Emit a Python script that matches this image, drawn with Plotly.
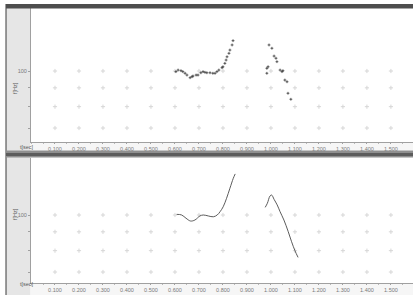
import plotly.graph_objects as go

# ---------------- data ----------------
x_ticks = [0.1, 0.2, 0.3, 0.4, 0.5, 0.6, 0.7, 0.8, 0.9, 1.0, 1.1, 1.2, 1.3, 1.4, 1.5]
y_grid = [70, 80, 90, 100]
y_labels = ["", "", "", "100"]

# top panel: raw pitch points
top_t1 = [0.604, 0.613, 0.625, 0.633, 0.642, 0.650, 0.663, 0.671, 0.675, 0.688, 0.696,
          0.708, 0.717, 0.725, 0.733, 0.746, 0.758, 0.767, 0.775, 0.783, 0.796, 0.800,
          0.808, 0.813, 0.817, 0.825, 0.829, 0.838, 0.842]
top_f1 = [99.6, 100.6, 100.2, 99.6, 98.6, 97.5, 95.9, 96.5, 96.9, 97.5, 97.5,
          98.9, 99.6, 99.2, 98.9, 98.9, 98.6, 98.6, 99.6, 100.6, 102.1, 102.7,
          104.9, 107.1, 109.3, 111.7, 114.0, 117.7, 120.9]
top_t2 = [0.983, 0.983, 0.988, 0.992, 1.004, 1.013, 1.021, 1.025, 1.038, 1.046, 1.050,
          1.058, 1.067, 1.071, 1.083]
top_f2 = [101.7, 98.6, 102.7, 117.7, 115.3, 109.8, 108.3, 106.0, 100.6, 99.6, 100.2,
          94.5, 93.5, 87.0, 83.8]

# bottom panel: smoothed contour
bot_t1 = [0.607, 0.628, 0.646, 0.665, 0.683, 0.704, 0.718, 0.739, 0.760, 0.776, 0.788,
          0.801, 0.815, 0.829, 0.843, 0.851]
bot_f1 = [100.4, 100.0, 98.0, 96.3, 96.9, 99.4, 100.0, 99.4, 98.9, 100.0, 102.1,
          105.3, 111.0, 118.2, 125.8, 129.3]
bot_t2 = [0.976, 0.985, 0.996, 1.003, 1.013, 1.026, 1.038, 1.054, 1.072, 1.086, 1.100, 1.113]
bot_f2 = [104.9, 107.6, 112.6, 113.3, 110.3, 106.5, 102.1, 96.9, 90.1, 84.6, 80.0, 76.7]

# ---------------- layout helpers ----------------
W, H = 413, 295
def px(x):
    return x / W
def py(y):
    return 1 - y / H

fig = go.Figure()

grid_x = [t for t in x_ticks for _ in y_grid]
grid_y = [f for _ in x_ticks for f in y_grid]

for ax in ["", "2"]:
    fig.add_trace(go.Scatter(x=grid_x, y=grid_y, mode="markers",
                             marker=dict(symbol="cross-thin", size=3,
                                         line=dict(color="#d6d6d6", width=1)),
                             xaxis="x" + ax, yaxis="y" + ax, hoverinfo="skip",
                             showlegend=False))

for t, f in [(top_t1, top_f1), (top_t2, top_f2)]:
    fig.add_trace(go.Scatter(x=t, y=f, mode="markers",
                             marker=dict(symbol="cross-thin", size=2,
                                         line=dict(color="#3a3a3a", width=0.8)),
                             xaxis="x", yaxis="y", showlegend=False))

for t, f in [(bot_t1, bot_f1), (bot_t2, bot_f2)]:
    fig.add_trace(go.Scatter(x=t, y=f, mode="lines",
                             line=dict(color="#4a4a4a", width=0.9, shape="spline"),
                             xaxis="x2", yaxis="y2", showlegend=False))

font = dict(family="Liberation Sans, DejaVu Sans, sans-serif", size=5.5, color="#7a7a7a")

xcommon = dict(range=[0, 1.592], tickvals=x_ticks, tickformat=".3f", automargin=False,
               showgrid=False, zeroline=False, showline=True, linecolor="#a0a0a0",
               linewidth=1, ticks="outside", ticklen=1, tickcolor="#a0a0a0",
               tickfont=font,
               minor=dict(dtick=0.05, ticks="outside", ticklen=1, tickcolor="#b8b8b8"))
ycommon = dict(type="log", tickvals=y_grid, ticktext=y_labels, showgrid=False,
               automargin=False,
               zeroline=False, showline=True, linecolor="#a0a0a0", linewidth=1,
               ticks="outside", ticklen=2, tickcolor="#a0a0a0", tickfont=font)

fig.update_layout(
    width=W, height=H, autosize=False,
    margin=dict(l=0, r=0, t=0, b=0, pad=0),
    paper_bgcolor="white", plot_bgcolor="white",
    showlegend=False,
    xaxis=dict(domain=[px(31), 1], anchor="y", **xcommon),
    yaxis=dict(domain=[py(142), py(8)], anchor="x", range=[1.8071, 2.1712], **ycommon),
    xaxis2=dict(domain=[px(31), 1], anchor="y2", **xcommon),
    yaxis2=dict(domain=[py(283), py(158)], anchor="x2", range=[1.8152, 2.1549], **ycommon),
)

shapes = []
# left gray column
shapes.append(dict(type="rect", xref="paper", yref="paper", x0=px(6), x1=px(30.5),
                   y0=0, y1=py(4), fillcolor="#e6e6e6", line=dict(width=0), layer="below"))
# label bands
shapes.append(dict(type="rect", xref="paper", yref="paper", x0=px(30.5), x1=1,
                   y0=py(150.5), y1=py(142.5), fillcolor="#f6f6f6", line=dict(width=0), layer="below"))
shapes.append(dict(type="rect", xref="paper", yref="paper", x0=px(30.5), x1=1,
                   y0=0, y1=py(283.5), fillcolor="#f6f6f6", line=dict(width=0), layer="below"))
# left dark border
shapes.append(dict(type="line", xref="paper", yref="paper", x0=px(6), x1=px(6),
                   y0=0, y1=py(4), line=dict(color="#3a3a3a", width=1)))
# top title bar
shapes.append(dict(type="rect", xref="paper", yref="paper", x0=px(6), x1=1,
                   y0=py(8.5), y1=py(4), fillcolor="#4e4e4e", line=dict(width=0)))
# second title bar
shapes.append(dict(type="rect", xref="paper", yref="paper", x0=px(6), x1=1,
                   y0=py(157.5), y1=py(150.5), fillcolor="#8f8f8f", line=dict(width=0)))
shapes.append(dict(type="rect", xref="paper", yref="paper", x0=px(6), x1=1,
                   y0=py(156), y1=py(153), fillcolor="#5c5c5c", line=dict(width=0)))
fig.update_layout(shapes=shapes)

small = dict(family="Liberation Sans, DejaVu Sans, sans-serif", size=5.5, color="#5a5a5a")
ann = []
for yl, yt in [(80, 146.5), (222, 288.5)]:
    ann.append(dict(text="f[Hz]", xref="paper", yref="paper", x=px(10), y=py(yl),
                    showarrow=False, textangle=-90, font=small))
    ann.append(dict(text="t[sec]", xref="paper", yref="paper", x=px(18), y=py(yt),
                    showarrow=False, font=small))
fig.update_layout(annotations=ann)

fig.write_html("out.html", config={"displayModeBar": False, "staticPlot": True},
               post_script="document.body.style.margin='0';document.body.style.overflow='hidden';")
